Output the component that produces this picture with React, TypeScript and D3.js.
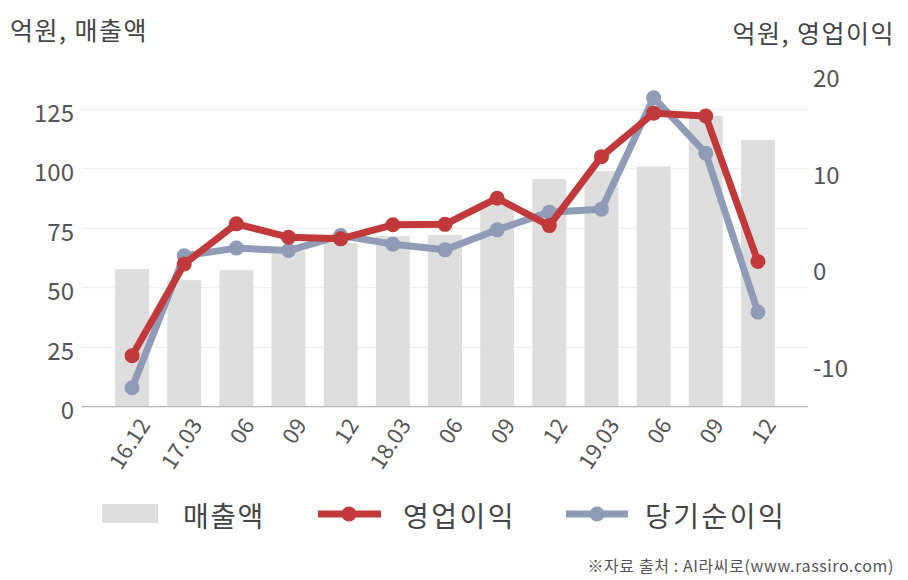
import React from "react";
import * as d3 from "d3";

const categories = ["16.12", "17.03", "06", "09", "12", "18.03", "06", "09", "12", "19.03", "06", "09", "12"];
const revenue = [57.9, 53.2, 57.4, 65.6, 68.9, 71.7, 72.2, 84.4, 95.7, 99.0, 100.9, 122.2, 112.1];
const operatingProfit = [-9.1, 0.4, 4.55, 3.17, 3.0, 4.45, 4.5, 7.2, 4.37, 11.5, 16.0, 15.7, 0.65];
const netIncome = [-12.4, 1.24, 2.04, 1.79, 3.34, 2.45, 1.86, 3.93, 5.76, 6.07, 17.6, 11.86, -4.58];
const leftTicks = [0, 25, 50, 75, 100, 125];
const rightTicks = [-10, 0, 10, 20];

const FONT = "'Noto Sans CJK KR', 'Noto Sans', sans-serif";
const RED = "#c2393b";
const BLUE = "#8f9bb7";
const BAR = "#dedede";

export default function App() {
  const W = 908, H = 580;
  const x = d3.scaleBand<number>().domain(d3.range(categories.length)).range([106, 784]).paddingInner(0.35).paddingOuter(0.175);
  const yL = d3.scaleLinear().domain([0, 125]).range([406.7, 109.3]);
  const yR = d3.scaleLinear().domain([-10, 20]).range([364.5, 74.5]);
  const cx = (i: number) => (x(i) as number) + x.bandwidth() / 2;
  const lineR = d3.line<number>().x((_, i) => cx(i)).y((d) => yR(d));

  return (
    <svg width={W} height={H} style={{ position: "absolute", left: 0, top: 0, background: "#fff" }} fontFamily={FONT}>
      <text x={10} y={40} fontSize={25} fill="#444" letterSpacing={1.5}>억원, 매출액</text>
      <text x={895} y={43} fontSize={25} fill="#444" textAnchor="end" letterSpacing={1.5}>억원, 영업이익</text>

      {leftTicks.filter((t) => t > 0).map((t) => (
        <line key={"g" + t} x1={82} x2={808} y1={yL(t)} y2={yL(t)} stroke="#ebebeb" strokeWidth={1} />
      ))}
      {leftTicks.map((t) => (
        <text key={"l" + t} x={74} y={yL(t) + 2} fontSize={24} fill="#555" textAnchor="end" dominantBaseline="central">{t}</text>
      ))}
      {rightTicks.map((t) => (
        <text key={"r" + t} x={813} y={yR(t) + 2} fontSize={24} fill="#555" dominantBaseline="central">{t}</text>
      ))}

      {revenue.map((v, i) => (
        <rect key={"b" + i} x={x(i)} y={yL(v)} width={x.bandwidth()} height={yL(0) - yL(v)} fill={BAR} />
      ))}
      <line x1={82} x2={808} y1={yL(0)} y2={yL(0)} stroke="#b5b5b5" strokeWidth={1.2} />

      {categories.map((c, i) => (
        <text key={"x" + i} transform={`translate(${cx(i) + 19},${425}) rotate(-57)`} fontSize={22} fill="#555" textAnchor="end">{c}</text>
      ))}

      <path d={lineR(netIncome) || ""} fill="none" stroke={BLUE} strokeWidth={7} strokeLinejoin="round" />
      {netIncome.map((v, i) => (
        <circle key={"n" + i} cx={cx(i)} cy={yR(v)} r={7.5} fill={BLUE} />
      ))}
      <path d={lineR(operatingProfit) || ""} fill="none" stroke={RED} strokeWidth={7} strokeLinejoin="round" />
      {operatingProfit.map((v, i) => (
        <circle key={"o" + i} cx={cx(i)} cy={yR(v)} r={7.5} fill={RED} />
      ))}

      <rect x={102} y={504} width={56} height={19} fill={BAR} />
      <text x={183} y={527} fontSize={28} fill="#444" letterSpacing={1.5}>매출액</text>
      <line x1={318} x2={381} y1={514} y2={514} stroke={RED} strokeWidth={7} />
      <circle cx={349} cy={514} r={7.5} fill={RED} />
      <text x={403} y={527} fontSize={28} fill="#444" letterSpacing={2.5}>영업이익</text>
      <line x1={566} x2={628} y1={514} y2={514} stroke={BLUE} strokeWidth={7} />
      <circle cx={597} cy={514} r={7.5} fill={BLUE} />
      <text x={645} y={527} fontSize={28} fill="#444" letterSpacing={2.5}>당기순이익</text>

      <text x={894} y={572} fontSize={16} fill="#555" textAnchor="end" letterSpacing={0.6}>※자료 출처 : AI라씨로(www.rassiro.com)</text>
    </svg>
  );
}
